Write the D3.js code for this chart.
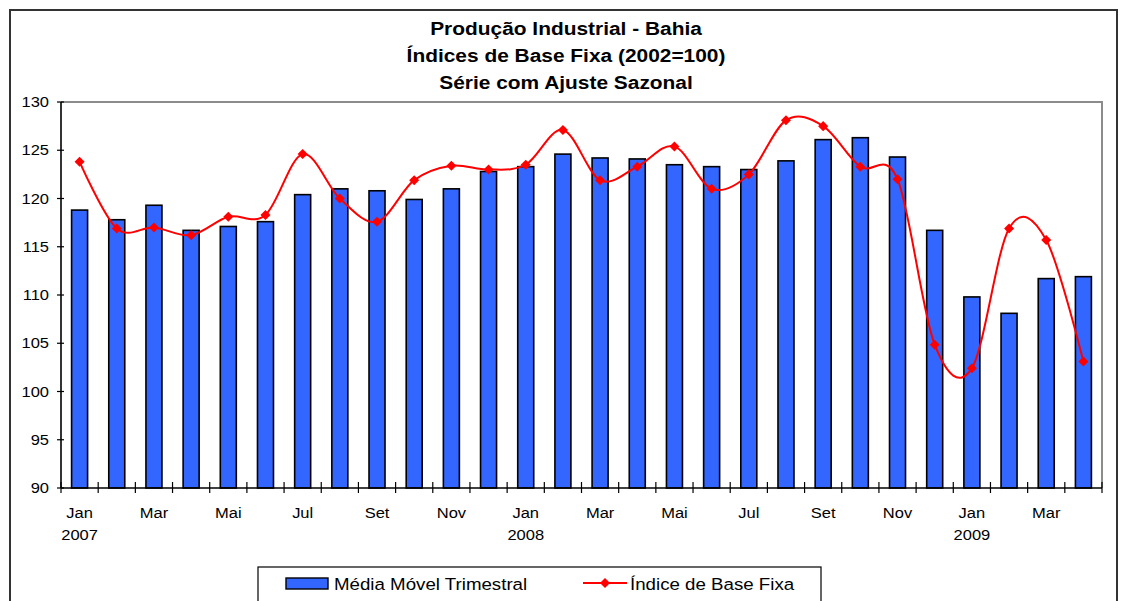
<!DOCTYPE html>
<html>
<head>
<meta charset="utf-8">
<script src="https://d3js.org/d3.v7.min.js"></script>
<style>
  body { margin: 0; background: #fff; }
  text { font-family: "Liberation Sans", Arial, sans-serif; fill: #000; }
</style>
</head>
<body>
<svg id="chart"></svg>
<script>
// meses (jan/2007 a abr/2009)
const meses = ["Jan","Fev","Mar","Abr","Mai","Jun","Jul","Ago","Set","Out","Nov","Dez",
               "Jan","Fev","Mar","Abr","Mai","Jun","Jul","Ago","Set","Out","Nov","Dez",
               "Jan","Fev","Mar","Abr"];
const anos = {0: "2007", 12: "2008", 24: "2009"};

// Média Móvel Trimestral (barras)
const mediaMovel = [118.8, 117.8, 119.3, 116.7, 117.1, 117.6, 120.4, 121.0, 120.8, 119.9, 121.0, 122.8,
                    123.3, 124.6, 124.2, 124.1, 123.5, 123.3, 123.0, 123.9, 126.1, 126.3, 124.3, 116.7,
                    109.8, 108.1, 111.7, 111.9];

// Índice de Base Fixa (linha)
const indiceBase = [123.8, 116.9, 117.0, 116.2, 118.1, 118.3, 124.6, 120.0, 117.6, 121.9, 123.4, 123.0,
                    123.5, 127.1, 121.9, 123.3, 125.4, 121.0, 122.5, 128.1, 127.5, 123.3, 122.0, 104.85,
                    102.4, 116.9, 115.7, 103.1];

const yTicks = [90, 95, 100, 105, 110, 115, 120, 125, 130];
const titulo = ["Produção Industrial - Bahia", "Índices de Base Fixa (2002=100)", "Série com Ajuste Sazonal"];

const width = 1121, height = 601;
const pLeft = 61, pRight = 1102, pTop = 102, pBottom = 488;
const sx = 1.1; // o original está um pouco esticado na horizontal

const svg = d3.select("#chart").attr("width", width).attr("height", height);

// texto com leve esticamento horizontal
function txt(g, x, y, s, size, anchor, bold) {
  return g.append("text")
    .attr("transform", "translate(" + x + "," + y + ") scale(" + sx + ",1)")
    .attr("text-anchor", anchor)
    .style("font-size", size + "px")
    .style("font-weight", bold ? "bold" : "normal")
    .text(s);
}

// moldura externa
svg.append("rect")
  .attr("x", 10).attr("y", 10).attr("width", 1107).attr("height", 620)
  .attr("fill", "none").attr("stroke", "#333").attr("stroke-width", 2);

// título
titulo.forEach(function(t, i) {
  txt(svg, 566, 35 + i * 27, t, 19, "middle", true);
});

const idx = d3.range(meses.length);
const x = d3.scaleBand().domain(idx).range([pLeft, pRight]);
const y = d3.scaleLinear().domain([90, 130]).range([pBottom, pTop]);

// borda da área de plotagem (cinza em cima e à direita)
svg.append("path")
  .attr("d", "M" + pLeft + "," + pTop + "H" + pRight + "V" + pBottom)
  .attr("fill", "none").attr("stroke", "#8c8c8c").attr("stroke-width", 2);

// barras
const bw = 16;
svg.append("g").selectAll("rect")
  .data(mediaMovel)
  .enter()
  .append("rect")
  .attr("x", function(d, i) { return x(i) + x.bandwidth() / 2 - bw / 2; })
  .attr("y", function(d) { return y(d); })
  .attr("width", bw)
  .attr("height", function(d) { return y(90) - y(d); })
  .attr("fill", "#3366FF")
  .attr("stroke", "#000")
  .attr("stroke-width", 1.6);

// eixos
const axes = svg.append("g").attr("stroke", "#000");
axes.append("line").attr("x1", pLeft).attr("x2", pLeft).attr("y1", pTop).attr("y2", pBottom).attr("stroke-width", 1.6);
axes.append("line").attr("x1", pLeft).attr("x2", pRight).attr("y1", pBottom).attr("y2", pBottom).attr("stroke-width", 1.6);

// ticks eixo Y (cruzando)
yTicks.forEach(function(v) {
  axes.append("line").attr("x1", pLeft - 4).attr("x2", pLeft + 3)
    .attr("y1", y(v)).attr("y2", y(v)).attr("stroke-width", 1.2);
  txt(svg, pLeft - 12, y(v) + 5, String(v), 15, "end", false);
});

// ticks eixo X (nos limites das categorias)
d3.range(meses.length + 1).forEach(function(i) {
  const xp = i < meses.length ? x(i) : pRight;
  axes.append("line").attr("x1", xp).attr("x2", xp)
    .attr("y1", pBottom - 6).attr("y2", pBottom + 5).attr("stroke-width", 1.2);
});

// rótulos dos meses (um sim, um não)
idx.forEach(function(i) {
  const cx = x(i) + x.bandwidth() / 2;
  if (i % 2 === 0) txt(svg, cx, 518, meses[i], 15, "middle", false);
  if (anos[i]) txt(svg, cx, 540, anos[i], 15, "middle", false);
});

// linha suavizada
const line = d3.line()
  .x(function(d, i) { return x(i) + x.bandwidth() / 2; })
  .y(function(d) { return y(d); })
  .curve(d3.curveCatmullRom.alpha(0));

svg.append("path")
  .datum(indiceBase)
  .attr("d", line)
  .attr("fill", "none")
  .attr("stroke", "#FF0000")
  .attr("stroke-width", 2);

const diamond = d3.symbol().type(d3.symbolDiamond2).size(64);
svg.append("g").selectAll("path")
  .data(indiceBase)
  .enter()
  .append("path")
  .attr("transform", function(d, i) { return "translate(" + (x(i) + x.bandwidth() / 2) + "," + y(d) + ")"; })
  .attr("d", diamond)
  .attr("fill", "#FF0000");

// legenda
const leg = svg.append("g");
leg.append("rect").attr("x", 258).attr("y", 567).attr("width", 563).attr("height", 60)
  .attr("fill", "#fff").attr("stroke", "#000").attr("stroke-width", 1.2);
leg.append("rect").attr("x", 286).attr("y", 578).attr("width", 42).attr("height", 11)
  .attr("fill", "#3366FF").attr("stroke", "#000").attr("stroke-width", 1.4);
txt(leg, 334, 590, "Média Móvel Trimestral", 17, "start", false);
leg.append("line").attr("x1", 583).attr("x2", 627).attr("y1", 583).attr("y2", 583)
  .attr("stroke", "#FF0000").attr("stroke-width", 2);
leg.append("path").attr("transform", "translate(605,583)").attr("d", diamond).attr("fill", "#FF0000");
txt(leg, 630, 590, "Índice de Base Fixa", 17, "start", false);
</script>
</body>
</html>
